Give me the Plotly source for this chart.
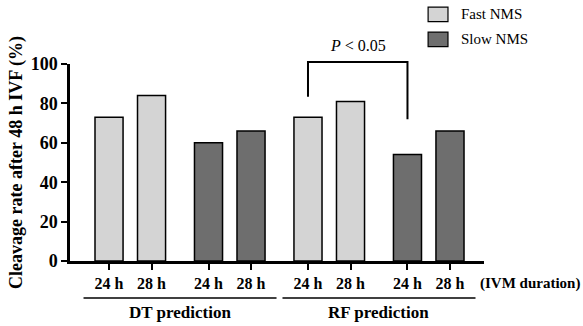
import plotly.graph_objects as go

# ---- data ----
groups = ["DT prediction", "RF prediction"]
durations = ["24 h", "28 h"]
fast_dt = [73, 84]
slow_dt = [60, 66]
fast_rf = [73, 81]
slow_rf = [54, 66]
y_ticks = [0, 20, 40, 60, 80, 100]
series_names = ["Fast NMS", "Slow NMS"]

FONT = "Liberation Serif, Times New Roman, serif"
LIGHT = "#d4d4d4"
DARK = "#6e6e6e"

# positions: pairs of bars, wider gap between pairs
step, gap = 1.0, 1.34
pos = []
x = 0.0
for i in range(8):
    pos.append(round(x, 3))
    x += step if i % 2 == 0 else gap

fast_pos = pos[0:2] + pos[4:6]
slow_pos = pos[2:4] + pos[6:8]
fast_vals = fast_dt + fast_rf
slow_vals = slow_dt + slow_rf

fig = go.Figure()
fig.add_trace(go.Bar(x=fast_pos, y=fast_vals, name=series_names[0], width=0.66,
                     marker=dict(color=LIGHT, line=dict(color="black", width=1.5))))
fig.add_trace(go.Bar(x=slow_pos, y=slow_vals, name=series_names[1], width=0.66,
                     marker=dict(color=DARK, line=dict(color="black", width=1.5))))

ticktext = durations * 4
fig.update_xaxes(range=[pos[0] - 0.918, pos[-1] + 0.8], tickvals=pos, ticktext=ticktext,
                 showline=True, linecolor="black", linewidth=2.5, ticks="outside",
                 ticklen=6, tickwidth=2, tickcolor="black", showgrid=False, zeroline=False,
                 automargin=False,
                 tickfont=dict(family=FONT, size=16, color="black", weight="bold"))
fig.update_yaxes(range=[0, 100], tickvals=y_ticks, showline=True, linecolor="black",
                 linewidth=2.5, ticks="outside", ticklen=6, tickwidth=2, tickcolor="black",
                 showgrid=False, zeroline=False, automargin=False,
                 tickfont=dict(family=FONT, size=18, color="black", weight="bold"),
                 title=dict(text="Cleavage rate after 48 h IVF (%)", standoff=4,
                            font=dict(family=FONT, size=18, color="black", weight="bold")))

# group lines and labels
for gi, g in enumerate(groups):
    xs = pos[gi * 4:(gi + 1) * 4]
    x0, x1 = xs[0] - 0.6, xs[-1] + 0.6
    fig.add_shape(type="line", xref="x", yref="paper", x0=x0, x1=x1, y0=-0.188, y1=-0.188,
                  line=dict(color="black", width=1.5))
    fig.add_annotation(xref="x", yref="paper", x=(xs[0] + xs[-1]) / 2, y=-0.262, text=g,
                       showarrow=False, yanchor="middle",
                       font=dict(family=FONT, size=17, color="black", weight="bold"))

fig.add_annotation(xref="paper", yref="paper", x=0.985, y=-0.115, xanchor="left", yanchor="middle",
                   text="(IVM duration)", showarrow=False,
                   font=dict(family=FONT, size=15, color="black", weight="bold"))

# significance bracket (RF 24 h fast vs slow)
bx0, bx1 = pos[4], pos[6]
fig.add_shape(type="path", xref="x", yref="paper",
              path=f"M {bx0},0.834 L {bx0},1.01 L {bx1},1.01 L {bx1},0.72",
              line=dict(color="black", width=2))
fig.add_annotation(xref="x", yref="paper", x=(bx0 + bx1) / 2, y=1.095, text="<i>P</i> < 0.05",
                   showarrow=False, yanchor="middle",
                   font=dict(family=FONT, size=16, color="black"))

# manual legend (top right, outside plot)
leg_colors = [LIGHT, DARK]
leg_y = [1.252, 1.125]  # paper centers
for name, col, yc in zip(series_names, leg_colors, leg_y):
    fig.add_shape(type="rect", xref="paper", yref="paper", x0=0.865, x1=0.913,
                  y0=yc - 0.037, y1=yc + 0.037, fillcolor=col, line=dict(color="black", width=1.2))
    fig.add_annotation(xref="paper", yref="paper", x=0.94, y=yc, xanchor="left", yanchor="middle",
                       text=name, showarrow=False,
                       font=dict(family=FONT, size=15, color="black"))

fig.update_layout(
    width=583, height=326, margin=dict(l=70, r=99, t=64, b=65),
    plot_bgcolor="white", paper_bgcolor="white", barmode="overlay",
    showlegend=False,
)

fig.write_html("out.html", config={"displayModeBar": False},
               post_script="document.body.style.margin='0';")
